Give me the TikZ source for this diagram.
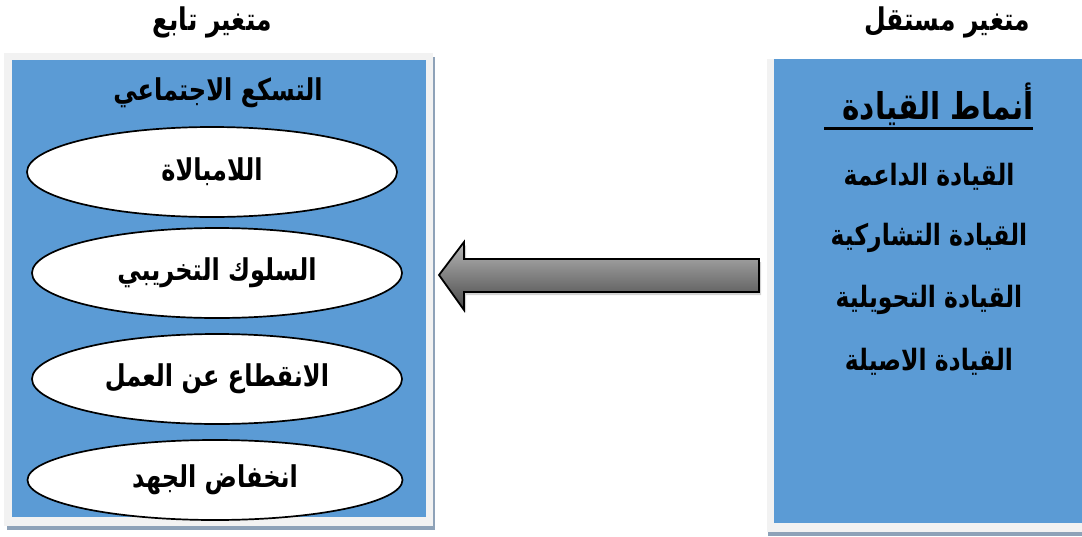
\documentclass[tikz,border=0pt]{standalone}
\usepackage{fontspec}
\usetikzlibrary{shapes.geometric,shadows,calc}
\TeXXeTstate=1
\newfontfamily\arabicfont[Script=Arabic]{DejaVu Sans}
\definecolor{boxblue}{HTML}{5B9BD5}
\definecolor{framegray}{HTML}{F2F2F2}
\definecolor{shadowgray}{HTML}{8EA2B8}
\newcommand{\ar}[1]{\scalebox{1}[1.25]{\arabicfont\bfseries\beginR #1\endR}}
\begin{document}
\begin{tikzpicture}[x=1pt,y=-1pt,
  bluebox/.style={rectangle,fill=boxblue,inner sep=0pt,draw=none},
  ovalbox/.style={ellipse,draw=black,line width=1.7pt,fill=white,inner sep=0pt,
    minimum width=370pt,minimum height=90pt,font=\fontsize{24}{28}\selectfont},
  titletext/.style={inner sep=0pt,font=\fontsize{24}{28}\selectfont},
  listtext/.style={inner sep=0pt,font=\fontsize{23.5}{28}\selectfont},
  headtext/.style={inner sep=0pt,font=\fontsize{25}{30}\selectfont}]
\useasboundingbox (0,0) rectangle (1082,536);
% left frame
\fill[shadowgray] (7,57) rectangle (435,530);
\fill[framegray] (4,53) rectangle (433,526);
\node[bluebox,minimum width=414pt,minimum height=457pt] (dep) at (219,288.5) {};
% right frame
\fill[shadowgray] (768,528) rectangle (1082,536);
\fill[framegray] (767,59) rectangle (1082,532);
\node[bluebox,minimum width=308pt,minimum height=464pt] (ind) at (928,291) {};
% headers
\node[headtext] (hdep) at (212,22) {\ar{متغير تابع}};
\node[headtext] (hind) at (947,22) {\ar{متغير مستقل}};
% left content
\node[titletext] (ttl) at (218,93) {\ar{التسكع الاجتماعي}};
\node[ovalbox] (e1) at (212,172) {\ar{اللامبالاة}};
\node[ovalbox] (e2) at (217,273) {\ar{السلوك التخريبي}};
\node[ovalbox] (e3) at (217,379) {\ar{الانقطاع عن العمل}};
\node[ovalbox,minimum width=375pt,minimum height=80pt] (e4) at (215,480) {\ar{انخفاض الجهد}};
% right content
\node[inner sep=0pt,font=\fontsize{29.5}{34}\selectfont] (lh) at (938,104) {\ar{أنماط القيادة}};
\draw[line width=3pt] (824,128) -- (1033,128);
\node[listtext] (l1) at (929,177) {\ar{القيادة الداعمة}};
\node[listtext] (l2) at (929,238) {\ar{القيادة التشاركية}};
\node[listtext] (l3) at (929,300) {\ar{القيادة التحويلية}};
\node[listtext] (l4) at (929,362) {\ar{القيادة الاصيلة}};
% arrow
\coordinate (tip) at (439,275);
\coordinate (tail) at (759,275);
\shade[top color=black!28,bottom color=black!72,draw=black,line width=1.8pt,line join=miter,
  drop shadow={opacity=0.35,shadow xshift=2pt,shadow yshift=-3pt}]
  (tip) -- ($(tip)+(25,-33)$) -- ($(tip)+(25,-16)$) -- ($(tail)+(0,-16)$)
  -- ($(tail)+(0,17)$) -- ($(tip)+(25,17)$) -- ($(tip)+(25,35)$) -- cycle;
\end{tikzpicture}
\end{document}
